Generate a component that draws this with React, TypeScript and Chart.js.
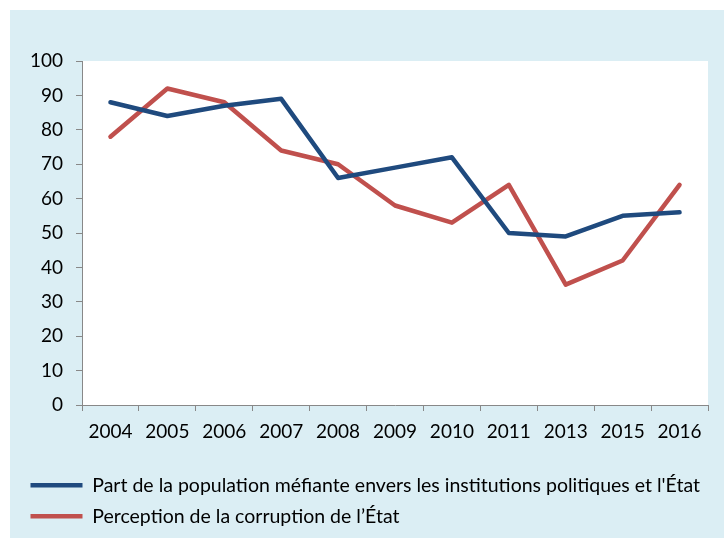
import React, { useEffect, useRef } from "react";
import { Chart, registerables } from "chart.js";

Chart.register(...registerables);

const categories = ["2004", "2005", "2006", "2007", "2008", "2009", "2010", "2011", "2013", "2015", "2016"];
const mefiance = [88, 84, 87, 89, 66, 69, 72, 50, 49, 55, 56];
const corruption = [78, 92, 88, 74, 70, 58, 53, 64, 35, 42, 64];
const seriesNames = [
  "Part de la population méfiante envers les institutions politiques et l'État",
  "Perception de la corruption de l’État",
];

const BLUE = "#1F4A7E";
const RED = "#C0504D";
const BG = "#DBEEF4";
const AXIS = "#888888";
const FONT = "Lato, 'Open Sans', sans-serif";

const plotBg = {
  id: "plotBg",
  beforeDraw(chart: any) {
    const { ctx, chartArea } = chart;
    ctx.save();
    ctx.fillStyle = "#FFFFFF";
    ctx.fillRect(chartArea.left, chartArea.top, chartArea.right - chartArea.left, chartArea.bottom - chartArea.top);
    ctx.restore();
  },
};

export default function App() {
  const ref = useRef<HTMLCanvasElement | null>(null);
  useEffect(() => {
    if (!ref.current) return;
    const chart = new Chart(ref.current, {
      type: "line",
      data: {
        labels: categories,
        datasets: [
          {
            label: seriesNames[0],
            data: mefiance,
            borderColor: BLUE,
            backgroundColor: BLUE,
            borderWidth: 4.5,
            borderCapStyle: "round",
            borderJoinStyle: "round",
            pointRadius: 0,
            tension: 0,
          },
          {
            label: seriesNames[1],
            data: corruption,
            borderColor: RED,
            backgroundColor: RED,
            borderWidth: 4.5,
            borderCapStyle: "round",
            borderJoinStyle: "round",
            pointRadius: 0,
            tension: 0,
          },
        ],
      },
      options: {
        responsive: false,
        animation: false,
        layout: { padding: { top: 51, left: 9, right: 16, bottom: 2 } },
        plugins: {
          tooltip: { enabled: false },
          legend: {
            position: "bottom",
            align: "start",
            labels: {
              usePointStyle: true,
              pointStyle: "line",
              pointStyleWidth: 52,
              padding: 11.5,
              color: "#000000",
              font: { family: FONT, size: 19.5 },
            },
          },
        },
        scales: {
          x: {
            offset: true,
            grid: { display: true, drawOnChartArea: false, drawTicks: true, tickLength: 6, color: AXIS, offset: true },
            border: { display: true, color: AXIS, width: 1 },
            ticks: {
              color: "#000000",
              padding: 9,
              maxRotation: 0,
              autoSkip: false,
              font: { family: FONT, size: 19 },
            },
            afterFit(scale: any) {
              scale.height = 59;
            },
          },
          y: {
            min: 0,
            max: 100,
            ticks: {
              stepSize: 10,
              color: "#000000",
              padding: 13,
              font: { family: FONT, size: 19 },
            },
            grid: { display: true, drawOnChartArea: false, drawTicks: true, tickLength: 6, color: AXIS },
            border: { display: true, color: AXIS, width: 1 },
            afterFit(scale: any) {
              scale.width = 63;
            },
          },
        },
      },
      plugins: [plotBg],
    } as any);
    return () => chart.destroy();
  }, []);
  return (
    <div style={{ position: "absolute", left: 10, top: 10, width: 714, height: 528, background: BG }}>
      <canvas ref={ref} width={714} height={528} style={{ display: "block", width: 714, height: 528 }} />
    </div>
  );
}
